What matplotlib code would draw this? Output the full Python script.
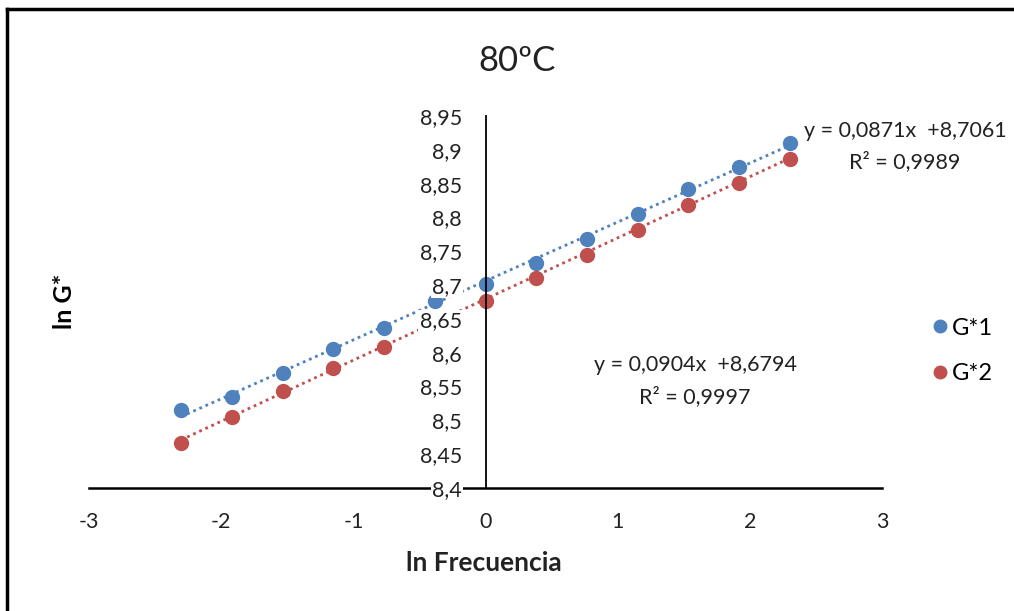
import matplotlib.pyplot as plt
import matplotlib.ticker as mticker
from matplotlib.lines import Line2D

# ln(frequency) values and ln G* for the two specimens at 80 C
ln_freq = [-2.303, -1.919, -1.535, -1.151, -0.768, -0.384, 0.0,
           0.384, 0.768, 1.151, 1.535, 1.919, 2.303]
ln_g1 = [8.515, 8.535, 8.570, 8.605, 8.637, 8.677, 8.701,
         8.732, 8.768, 8.805, 8.842, 8.874, 8.910]
ln_g2 = [8.466, 8.505, 8.544, 8.577, 8.609, 8.645, 8.677,
         8.710, 8.744, 8.782, 8.818, 8.851, 8.886]

series_names = ['G*1', 'G*2']
slopes = [0.0871, 0.0904]
intercepts = [8.7061, 8.6794]
r2_values = [0.9989, 0.9997]

colors = ['#4F81BD', '#C0504D']
txt_col = '#222222'

plt.rcParams['font.family'] = ['Lato', 'DejaVu Sans']

fig = plt.figure(figsize=(10.14, 6.11), dpi=100)
ax = fig.add_axes([89/1014, 1-488/611, (882-89)/1014, (488-116)/611])

for x_vals, y_vals, slope, icpt, col, name in zip(
        [ln_freq, ln_freq], [ln_g1, ln_g2], slopes, intercepts, colors, series_names):
    ax.plot(x_vals, y_vals, 'o', color=col, markersize=10, zorder=2, label=name)
    # linear trendline over the data range
    x0, x1 = min(x_vals), max(x_vals)
    ax.plot([x0, x1], [slope*x0 + icpt, slope*x1 + icpt], color=col,
            linewidth=2, linestyle=(0, (1, 1.4)), zorder=1.5)

ax.set_xlim(-3, 3)
ax.set_ylim(8.4, 8.95)
ax.xaxis.set_major_locator(mticker.MultipleLocator(1))
ax.yaxis.set_major_locator(mticker.MultipleLocator(0.05))

def comma_fmt(v, pos):
    return f'{v:.10g}'.replace('.', ',')

ax.xaxis.set_major_formatter(mticker.FuncFormatter(comma_fmt))
ax.yaxis.set_major_formatter(mticker.FuncFormatter(comma_fmt))

# axes crossing at x = 0
ax.spines['left'].set_position(('data', 0))
ax.spines['top'].set_visible(False)
ax.spines['right'].set_visible(False)
ax.spines['left'].set_linewidth(1.3)
ax.spines['bottom'].set_linewidth(1.8)
ax.tick_params(axis='both', length=0, labelsize=15.5, colors=txt_col)
ax.tick_params(axis='y', pad=17)
ax.tick_params(axis='x', pad=17)
ax.patch.set_alpha(0)

# white boxes behind the y labels so they sit on top of the markers
fig.canvas.draw()
for lbl in ax.yaxis.get_ticklabels():
    lbl.set_bbox(dict(facecolor='white', edgecolor='none', pad=1))
    lbl.set_zorder(5)
ax.yaxis.set_zorder(5)

fig.text(517/1014, 1-61/611, '80ºC', fontsize=25, ha='center', va='center', color=txt_col)
fig.text(64/1014, 1-301/611, 'ln G*', fontsize=18, fontweight='bold', rotation=90,
         ha='center', va='center')
fig.text(484/1014, 1-563/611, 'ln Frecuencia', fontsize=19, fontweight='bold',
         ha='center', va='center', color=txt_col)

# trendline equations
eq1 = f'y = {slopes[0]:.4f}x  +{intercepts[0]:.4f}'.replace('.', ',')
eq2 = f'y = {slopes[1]:.4f}x  +{intercepts[1]:.4f}'.replace('.', ',')
fig.text(804/1014, 1-131/611, eq1, fontsize=15.5, ha='left', va='center', color=txt_col)
fig.text(905/1014, 1-162/611, f'R² = {r2_values[0]:.4f}'.replace('.', ','), fontsize=15.5,
         ha='center', va='center', color=txt_col)
fig.text(695/1014, 1-365/611, eq2, fontsize=15.5, ha='center', va='center', color=txt_col)
fig.text(695/1014, 1-397/611, f'R² = {r2_values[1]:.4f}'.replace('.', ','), fontsize=15.5,
         ha='center', va='center', color=txt_col)

handles = [Line2D([], [], marker='o', linestyle='none', color=c, markersize=9)
           for c in colors]
fig.legend(handles, series_names, loc='center left',
           bbox_to_anchor=(907/1014, 1-351/611), frameon=False, fontsize=17,
           handletextpad=0.0, handlelength=1.0, labelspacing=1.05)

# chart border (top and left edges)
fig.add_artist(Line2D([7/1014, 7/1014], [0, 1-9/611], color='black', linewidth=2.5,
                      transform=fig.transFigure))
fig.add_artist(Line2D([7/1014, 1], [1-9/611, 1-9/611], color='black', linewidth=2.5,
                      transform=fig.transFigure))

fig.savefig('out.png', dpi=100)
